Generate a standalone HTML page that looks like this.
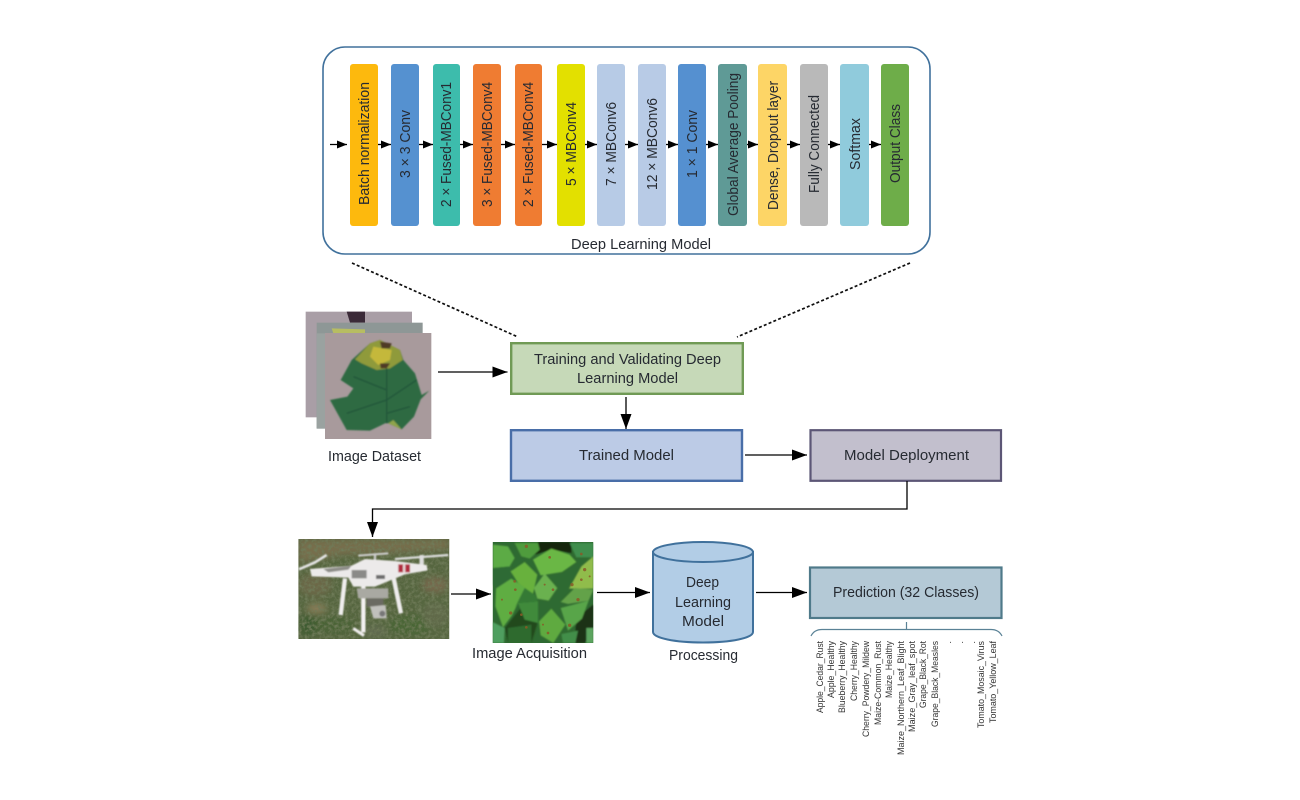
<!DOCTYPE html>
<html><head><meta charset="utf-8"><title>Deep learning pipeline</title>
<style>
html,body{margin:0;padding:0;background:#fff}
svg{display:block}
text{font-family:"Liberation Sans",sans-serif;fill:#262b31}
.b{font-size:15px}
.m{font-size:15px;text-anchor:start}
.s{font-size:9.5px;fill:#333;text-anchor:end}
</style></head><body>
<svg width="1300" height="800" viewBox="0 0 1300 800" xmlns="http://www.w3.org/2000/svg">
<defs>
<marker id="h" viewBox="0 0 15 11" markerUnits="userSpaceOnUse" markerWidth="15" markerHeight="11" refX="15" refY="5.5" orient="auto"><path d="M0 0L15 5.5L0 11z" fill="#000"/></marker>
<marker id="t" viewBox="0 0 10 8" markerUnits="userSpaceOnUse" markerWidth="10" markerHeight="8" refX="10" refY="4" orient="auto"><path d="M0 0L10 4L0 8z" fill="#000"/></marker>
<filter id="all" filterUnits="userSpaceOnUse" x="0" y="0" width="1300" height="800"><feGaussianBlur stdDeviation="0.35"/></filter>
<filter id="soft" x="-10%" y="-10%" width="120%" height="120%"><feGaussianBlur stdDeviation="2.5"/></filter>
<filter id="soft2" x="-30%" y="-30%" width="160%" height="160%"><feGaussianBlur stdDeviation="10"/></filter>
<filter id="grain" x="0" y="0" width="100%" height="100%"><feTurbulence type="fractalNoise" baseFrequency="0.1" numOctaves="3" seed="4"/><feColorMatrix values="0 0 0 0 0.16  0 0 0 0 0.2  0 0 0 0 0.1  2.4 0 0 0 -0.95"/><feComposite in2="SourceGraphic" operator="in"/><feMerge><feMergeNode in="SourceGraphic"/><feMergeNode/></feMerge></filter>
<clipPath id="droneClip"><rect x="10" y="12" width="453" height="300"/></clipPath>
<clipPath id="leafClip"><rect x="14" y="12" width="302" height="303"/></clipPath>
<clipPath id="stackClip"><rect x="105" y="99" width="319" height="318"/></clipPath>
</defs>
<g filter="url(#all)">
<rect width="1300" height="800" fill="#fff"/>
<!-- Model container -->
<rect x="323" y="47" width="607" height="207" rx="22" fill="#fff" stroke="#41719c" stroke-width="1.6"/>

<g>
<rect x="350" y="64" width="28" height="162" rx="3" fill="#fdb90f"/>
<rect x="391" y="64" width="28" height="162" rx="3" fill="#5591d0"/>
<rect x="433" y="64" width="27" height="162" rx="3" fill="#3cbcac"/>
<rect x="473" y="64" width="28" height="162" rx="3" fill="#ef7b33"/>
<rect x="515" y="64" width="27" height="162" rx="3" fill="#ef7b33"/>
<rect x="557" y="64" width="28" height="162" rx="3" fill="#e3e000"/>
<rect x="597" y="64" width="28" height="162" rx="3" fill="#b7cbe6"/>
<rect x="638" y="64" width="28" height="162" rx="3" fill="#b8cbe6"/>
<rect x="678" y="64" width="28" height="162" rx="3" fill="#5590d0"/>
<rect x="718" y="64" width="29" height="162" rx="3" fill="#5e9a96"/>
<rect x="758" y="64" width="29" height="162" rx="3" fill="#fdd566"/>
<rect x="800" y="64" width="28" height="162" rx="3" fill="#b9b9b9"/>
<rect x="840" y="64" width="29" height="162" rx="3" fill="#90cbdc"/>
<rect x="881" y="64" width="28" height="162" rx="3" fill="#6ead4a"/>
</g>

<g>
<text class="m" transform="translate(369,205) rotate(-90)" textLength="123" lengthAdjust="spacingAndGlyphs">Batch normalization</text>
<text class="m" transform="translate(410,178) rotate(-90)" textLength="68" lengthAdjust="spacingAndGlyphs">3 × 3 Conv</text>
<text class="m" transform="translate(451,207) rotate(-90)" textLength="125" lengthAdjust="spacingAndGlyphs">2 × Fused-MBConv1</text>
<text class="m" transform="translate(492,207) rotate(-90)" textLength="125" lengthAdjust="spacingAndGlyphs">3 × Fused-MBConv4</text>
<text class="m" transform="translate(533,207) rotate(-90)" textLength="125" lengthAdjust="spacingAndGlyphs">2 × Fused-MBConv4</text>
<text class="m" transform="translate(576,186) rotate(-90)" textLength="84" lengthAdjust="spacingAndGlyphs">5 × MBConv4</text>
<text class="m" transform="translate(616,186) rotate(-90)" textLength="84" lengthAdjust="spacingAndGlyphs">7 × MBConv6</text>
<text class="m" transform="translate(657,190) rotate(-90)" textLength="92" lengthAdjust="spacingAndGlyphs">12 × MBConv6</text>
<text class="m" transform="translate(697,178) rotate(-90)" textLength="68" lengthAdjust="spacingAndGlyphs">1 × 1 Conv</text>
<text class="m" transform="translate(738,216) rotate(-90)" textLength="143" lengthAdjust="spacingAndGlyphs">Global Average Pooling</text>
<text class="m" transform="translate(778,210) rotate(-90)" textLength="129" lengthAdjust="spacingAndGlyphs">Dense, Dropout layer</text>
<text class="m" transform="translate(819,193) rotate(-90)" textLength="98" lengthAdjust="spacingAndGlyphs">Fully Connected</text>
<text class="m" transform="translate(860,170) rotate(-90)" textLength="52" lengthAdjust="spacingAndGlyphs">Softmax</text>
<text class="m" transform="translate(900,183) rotate(-90)" textLength="79" lengthAdjust="spacingAndGlyphs">Output Class</text>
</g>

<g stroke="#000" stroke-width="1.300" fill="none">
<path d="M330 144.500H347" marker-end="url(#t)"/>
<path d="M378 144.500H391" marker-end="url(#t)"/>
<path d="M419 144.500H433" marker-end="url(#t)"/>
<path d="M460 144.500H473" marker-end="url(#t)"/>
<path d="M501 144.500H515" marker-end="url(#t)"/>
<path d="M542 144.500H557" marker-end="url(#t)"/>
<path d="M585 144.500H597" marker-end="url(#t)"/>
<path d="M625 144.500H638" marker-end="url(#t)"/>
<path d="M666 144.500H678" marker-end="url(#t)"/>
<path d="M706 144.500H718" marker-end="url(#t)"/>
<path d="M747 144.500H758" marker-end="url(#t)"/>
<path d="M787 144.500H800" marker-end="url(#t)"/>
<path d="M828 144.500H840" marker-end="url(#t)"/>
<path d="M869 144.500H881" marker-end="url(#t)"/>
</g>
<text class="b" x="571" y="249" textLength="140" lengthAdjust="spacingAndGlyphs">Deep Learning Model</text>

<!-- dotted -->
<path d="M352 263L518 337M910 263L737 337" stroke="#111" stroke-width="1.700" stroke-dasharray="3 2.200" fill="none"/>

<!-- Image stack -->
<g transform="translate(290,300) scale(.33333)">
<rect x="47" y="35" width="319" height="317" fill="#a99ea6"/>
<path d="M170 35H225V68H180z" fill="#3b2b38"/>
<rect x="80" y="68" width="318" height="318" fill="#8e9796"/>
<path d="M125 85L225 88L225 100H130z" fill="#b7bd62"/>
<path d="M80 100H105V385H80z" fill="#9aa2a0"/>
<rect x="105" y="99" width="319" height="318" fill="#a89a9c"/>
<g clip-path="url(#stackClip)"><g filter="url(#soft)">
<path d="M270 120L330 150L340 180L375 220L395 285L418 272L392 298L372 350L335 388L290 368L240 392L170 390L120 300L172 290L190 265L152 240L185 180L240 130z" fill="#2f6a42"/>
<path d="M240 130L270 120L330 150L338 180L300 205L260 210L215 190L195 178z" fill="#8f9a3a"/>
<path d="M250 140L305 150L300 180L265 195L240 170z" fill="#c4b83a"/>
<path d="M270 125L305 130L300 145L275 145zM270 190L300 190L290 205L272 205z" fill="#4f3a28"/>
<path d="M290 205V370M290 270L190 230M290 300L170 340M290 300L380 240M290 340L360 320" stroke="#22543a" stroke-width="4" fill="none"/>
<path d="M295 370L335 388L310 360z" fill="#8fa54c"/>
</g></g>
</g>
<text class="b" x="328" y="461" textLength="93" lengthAdjust="spacingAndGlyphs">Image Dataset</text>

<!-- Boxes -->
<rect x="511.200" y="343.200" width="231.600" height="50.600" fill="#c6d9b8" stroke="#6f9a55" stroke-width="2.400"/>
<text class="b" x="534" y="364" textLength="187" lengthAdjust="spacingAndGlyphs">Training and Validating Deep</text>
<text class="b" x="577" y="383" textLength="101" lengthAdjust="spacingAndGlyphs">Learning Model</text>

<rect x="511" y="430.200" width="231" height="50.600" fill="#bccbe6" stroke="#4a6ea8" stroke-width="2.400"/>
<text class="b" x="579" y="460" textLength="95" lengthAdjust="spacingAndGlyphs">Trained Model</text>

<rect x="810.500" y="430.200" width="190.500" height="50.600" fill="#c2bfcd" stroke="#5b5776" stroke-width="2.200"/>
<text class="b" x="844" y="460" textLength="125" lengthAdjust="spacingAndGlyphs">Model Deployment</text>

<!-- arrows -->
<g stroke="#000" stroke-width="1.300" fill="none">
<path d="M438 372H507.500" marker-end="url(#h)"/>
<path d="M626 397V429" marker-end="url(#h)"/>
<path d="M745 455H807" marker-end="url(#h)"/>
<path d="M907 481V509H372.500V537" marker-end="url(#h)"/>
<path d="M451 594H491" marker-end="url(#h)"/>
<path d="M597 592.500H650" marker-end="url(#h)"/>
<path d="M756 592.500H807" marker-end="url(#h)"/>
</g>

<!-- Drone photo -->
<g transform="translate(295,535) scale(.33333)">
<g clip-path="url(#droneClip)">
<g filter="url(#grain)">
<rect x="10" y="12" width="453" height="300" fill="#566640"/>
<g filter="url(#soft2)" opacity=".85">
<path d="M10 12H463V45L300 55L150 60L10 85z" fill="#7d7050"/>
<ellipse cx="60" cy="150" rx="50" ry="35" fill="#6f6748"/>
<ellipse cx="420" cy="150" rx="40" ry="25" fill="#7c674f"/>
<ellipse cx="65" cy="220" rx="30" ry="14" fill="#9a835f"/>
<ellipse cx="40" cy="270" rx="35" ry="30" fill="#3a5a2e"/>
<ellipse cx="350" cy="270" rx="70" ry="30" fill="#486635"/>
<ellipse cx="120" cy="270" rx="60" ry="25" fill="#4a6436"/>
<ellipse cx="420" cy="240" rx="40" ry="40" fill="#626a4c"/>
<ellipse cx="240" cy="290" rx="35" ry="20" fill="#646d52"/>
</g>
</g>
<g filter="url(#soft)">
<path d="M300 72L460 60" stroke="#ddd" stroke-width="7"/>
<path d="M190 62L280 55" stroke="#cfcfcf" stroke-width="6"/>
<path d="M12 103L60 82L95 60" stroke="#e4e4e4" stroke-width="8" fill="none"/>
<path d="M380 60V95" stroke="#ddd" stroke-width="13"/>
<path d="M240 55V75" stroke="#ccc" stroke-width="7"/>
<path d="M150 130L137 240" stroke="#f0eeee" stroke-width="13"/>
<path d="M205 150V292" stroke="#f4f2f2" stroke-width="13"/>
<path d="M295 125L318 235" stroke="#efeded" stroke-width="13"/>
<path d="M175 280L207 302" stroke="#f0eeee" stroke-width="9"/>
<path d="M45 102L170 92L210 72L300 78L395 90L398 106L330 118L300 130L240 155L175 155L160 128L50 124z" fill="#eceaea"/>
<path d="M85 102L170 92L160 104L100 112z" fill="#8d8d88"/>
<path d="M170 105H215V130H170z" fill="#8a8a88"/>
<path d="M243 120H270V132H243z" fill="#6d6d6d"/>
<rect x="310" y="88" width="35" height="24" fill="#b02a3c"/>
<rect x="324" y="86" width="7" height="28" fill="#e8d8d8"/>
<path d="M185 160H280V190H190z" fill="#a9a9a2"/>
<path d="M215 190H265V215H215z" fill="#6b6b62"/>
<path d="M225 215L272 210L275 250L235 250z" fill="#c0c0bc"/>
<circle cx="262" cy="236" r="9" fill="#777"/>
</g>
</g>
</g>

<!-- Leaves photo -->
<g transform="translate(488,538) scale(.33333)">
<g clip-path="url(#leafClip)">
<rect x="14" y="12" width="302" height="303" fill="#2f6a30"/>
<g filter="url(#soft)">
<path d="M150 12H250L250 45L190 35L140 50z" fill="#14260f"/>
<path d="M265 240L316 200V280L290 315H260z" fill="#1a3016"/>
<path d="M130 170L150 250L130 315H60L50 270z" fill="#20491f"/>
<path d="M15 20L60 25L80 60L65 85L15 90z" fill="#5cab44"/>
<path d="M80 15H150L155 35L125 62L100 55z" fill="#509c3e"/>
<path d="M15 90L70 85L70 130L25 150L15 140z" fill="#2f6b34"/>
<path d="M245 15H316V58L265 58z" fill="#3f8e4e"/>
<path d="M90 195L150 190L150 255L110 245z" fill="#3f8a3a"/>
<path d="M60 270L130 260L130 315H60z" fill="#2d6a2e"/>
<path d="M135 65L190 32L245 50L265 72L222 102L158 112z" fill="#6ab744"/>
<path d="M68 100L110 72L148 110L135 168L90 135z" fill="#67b13e"/>
<path d="M24 152L70 122L112 150L72 232L45 268L22 205z" fill="#5fad43"/>
<path d="M138 150L170 106L208 150L182 188L148 182z" fill="#6bb150"/>
<path d="M110 150L140 170L150 190L90 195L80 210z" fill="#347a35"/>
<path d="M243 152L280 85L316 55V152z" fill="#90bc4c"/>
<path d="M218 192L260 150L316 155L302 188L240 198z" fill="#63a24a"/>
<path d="M218 210L302 188L282 242L240 278z" fill="#59a54a"/>
<path d="M153 250L190 212L232 260L196 315L158 292z" fill="#5eaa41"/>
<path d="M14 252L50 270L48 315H14z" fill="#4f9f5e"/>
<path d="M220 288L270 278L262 315H225z" fill="#438e48"/>
<path d="M295 270H316V315H295z" fill="#5ca45e"/>
</g>
<g fill="#8a5a28" opacity=".85">
<circle cx="115" cy="25" r="5"/><circle cx="185" cy="58" r="4"/><circle cx="80" cy="130" r="4"/><circle cx="82" cy="155" r="4"/><circle cx="68" cy="225" r="5"/><circle cx="170" cy="140" r="3"/><circle cx="195" cy="155" r="4"/><circle cx="290" cy="95" r="5"/><circle cx="280" cy="125" r="4"/><circle cx="305" cy="115" r="3"/><circle cx="252" cy="140" r="5"/><circle cx="270" cy="185" r="5"/><circle cx="180" cy="285" r="4"/><circle cx="245" cy="262" r="5"/><circle cx="100" cy="230" r="4"/><circle cx="115" cy="268" r="4"/><circle cx="165" cy="260" r="3"/><circle cx="280" cy="48" r="4"/><circle cx="42" cy="185" r="3"/></g>
</g>
</g>
<text class="b" x="472" y="658" textLength="115" lengthAdjust="spacingAndGlyphs">Image Acquisition</text>

<!-- Cylinder -->
<path d="M653 552V632C653 638 675 642.500 703 642.500C731 642.500 753 638 753 632V552z" fill="#b2cde6" stroke="#41719c" stroke-width="2"/>
<ellipse cx="703" cy="552" rx="50" ry="10" fill="#b2cde6" stroke="#41719c" stroke-width="2"/>
<text class="b" x="686" y="587" textLength="33" lengthAdjust="spacingAndGlyphs">Deep</text>
<text class="b" x="675" y="607" textLength="56" lengthAdjust="spacingAndGlyphs">Learning</text>
<text class="b" x="682" y="626" textLength="42" lengthAdjust="spacingAndGlyphs">Model</text>
<text class="b" x="669" y="660" textLength="69" lengthAdjust="spacingAndGlyphs">Processing</text>

<!-- Prediction -->
<rect x="810" y="567.500" width="191.500" height="50.500" fill="#b4c9d6" stroke="#4f7a8a" stroke-width="2.200"/>
<text class="b" x="833" y="597" textLength="146" lengthAdjust="spacingAndGlyphs">Prediction (32 Classes)</text>
<path d="M811 636C813 632 817 629.500 822 629.500H991C996 629.500 1000 632 1002 636M906.500 622V629.500" fill="none" stroke="#5a8296" stroke-width="1.200"/>

<g>
<text class="s" transform="translate(823,641) rotate(-90)" textLength="72" lengthAdjust="spacingAndGlyphs">Apple_Cedar_Rust</text>
<text class="s" transform="translate(834,641) rotate(-90)" textLength="57" lengthAdjust="spacingAndGlyphs">Apple_Healthy</text>
<text class="s" transform="translate(845,641) rotate(-90)" textLength="72" lengthAdjust="spacingAndGlyphs">Blueberry_Healthy</text>
<text class="s" transform="translate(857,641) rotate(-90)" textLength="60" lengthAdjust="spacingAndGlyphs">Cherry_Healthy</text>
<text class="s" transform="translate(869,641) rotate(-90)" textLength="96" lengthAdjust="spacingAndGlyphs">Cherry_Powdery_Mildew</text>
<text class="s" transform="translate(881,641) rotate(-90)" textLength="84" lengthAdjust="spacingAndGlyphs">Maize-Common_Rust</text>
<text class="s" transform="translate(892,641) rotate(-90)" textLength="57" lengthAdjust="spacingAndGlyphs">Maize_Healthy</text>
<text class="s" transform="translate(904,641) rotate(-90)" textLength="114" lengthAdjust="spacingAndGlyphs">Maize_Northern_Leaf_Blight</text>
<text class="s" transform="translate(915,641) rotate(-90)" textLength="91" lengthAdjust="spacingAndGlyphs">Maize_Gray_leaf_spot</text>
<text class="s" transform="translate(926,641) rotate(-90)" textLength="67" lengthAdjust="spacingAndGlyphs">Grape_Black_Rot</text>
<text class="s" transform="translate(938,641) rotate(-90)" textLength="86" lengthAdjust="spacingAndGlyphs">Grape_Black_Measles</text>
<text class="s" transform="translate(951,641) rotate(-90)">.</text>
<text class="s" transform="translate(963,641) rotate(-90)">.</text>
<text class="s" transform="translate(975,641) rotate(-90)">.</text>
<text class="s" transform="translate(984,641) rotate(-90)" textLength="87" lengthAdjust="spacingAndGlyphs">Tomato_Mosaic_Virus</text>
<text class="s" transform="translate(996,641) rotate(-90)" textLength="82" lengthAdjust="spacingAndGlyphs">Tomato_Yellow_Leaf</text>
</g>
</g>
</svg>
</body></html>
